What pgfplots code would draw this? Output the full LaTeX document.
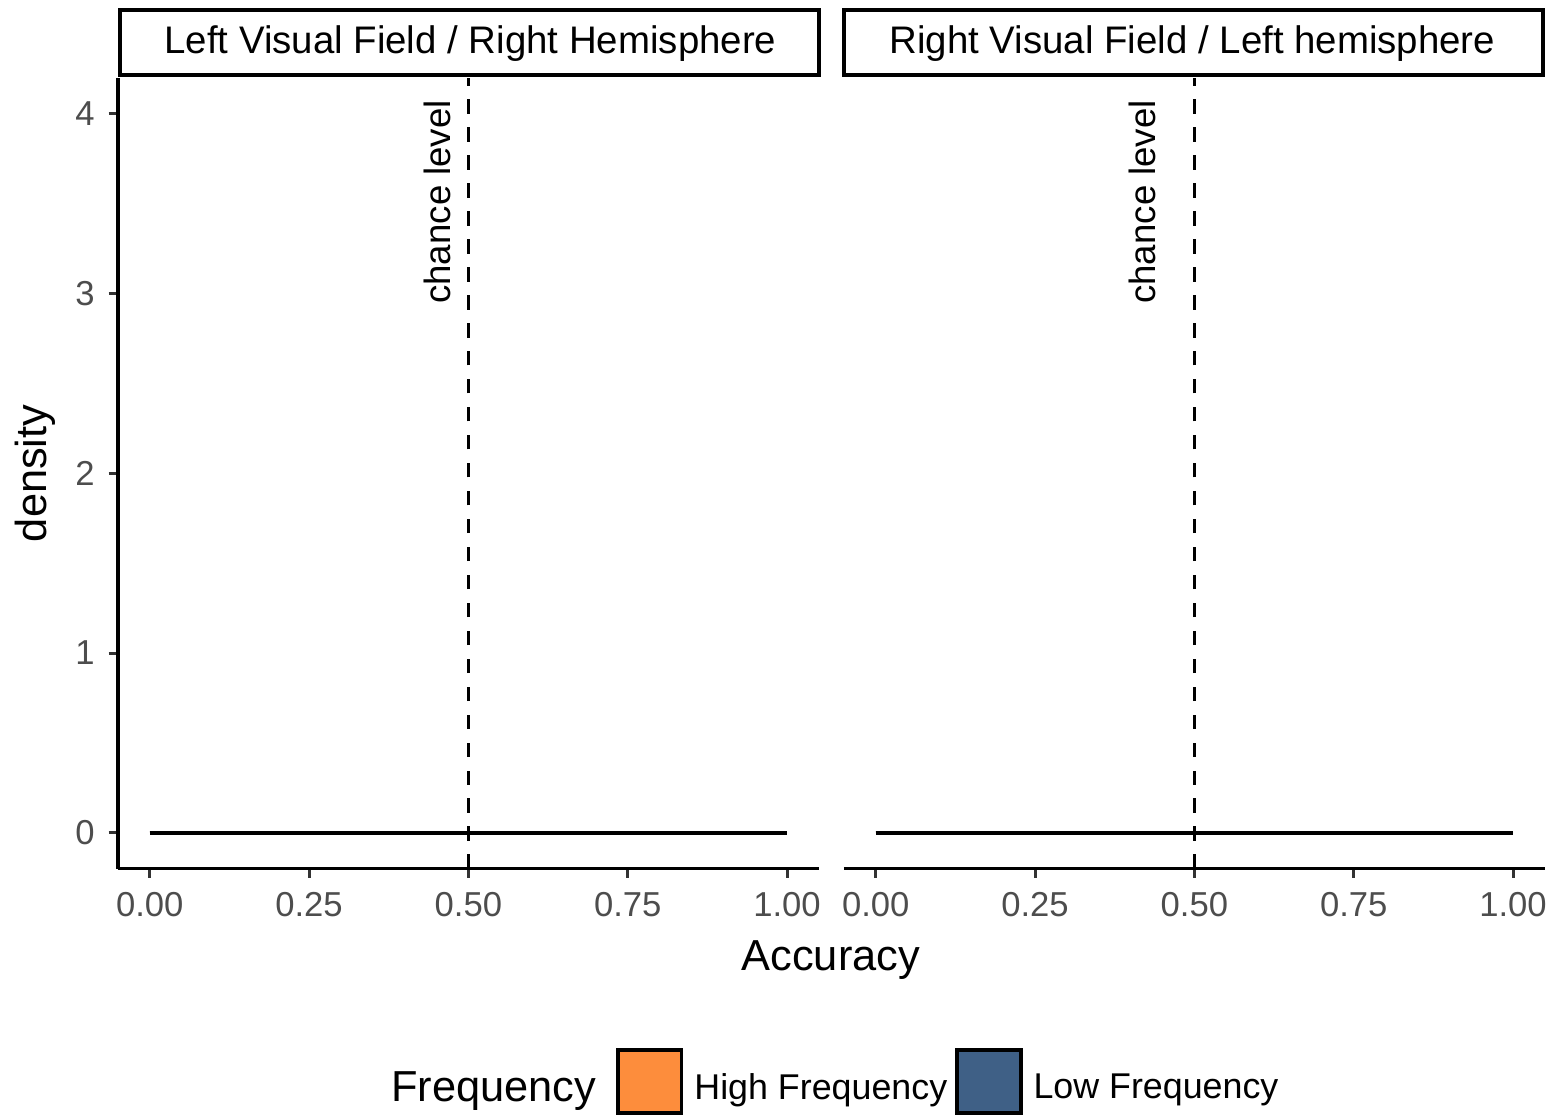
\documentclass[border=0pt]{standalone}
\usepackage{fontspec}
\setmainfont{Liberation Sans}
\usepackage{pgfplots}
\pgfplotsset{compat=1.18}
\definecolor{hf}{HTML}{FD8D3C}
\definecolor{lf}{HTML}{3F6086}
\definecolor{ticklab}{HTML}{4D4D4D}
\definecolor{tickc}{HTML}{333333}

\pgfplotsset{panel/.style={
  scale only axis, width=175.5bp, height=198bp,
  xmin=-0.05, xmax=1.05, ymin=-0.2, ymax=4.2,
  xtick={0,0.25,0.5,0.75,1}, xticklabels={0.00,0.25,0.50,0.75,1.00},
  ytick={0,1,2,3,4}, yticklabels={0,1,2,3,4},
  tick align=outside, major tick length=2.3bp,
  every tick/.style={tickc, line width=0.75bp},
  ticklabel style={font=\fontsize{8.7}{10}\selectfont, text=ticklab},
  x axis line style={line width=0.85bp, black, -},
  y axis line style={line width=0.85bp, black, -},
  clip=false,
}}

\begin{document}
\begin{tikzpicture}[x=0.25bp, y=0.25bp]
\path (0,0) rectangle (1560,1115);

% Panel 1
\begin{axis}[panel, at={(29.5bp,61.25bp)}, anchor=south west,
  axis x line*=bottom, axis y line*=left,
  legend columns=3,
  legend cell align=left,
  legend style={at={(axis description cs:1.0149,-0.2691)}, anchor=center,
    draw=none, fill=none, inner sep=0pt, outer sep=0pt,
    font=\fontsize{9}{11}\selectfont,
    nodes={inner sep=0pt},
    /tikz/every odd column/.append style={column sep=2.75bp},
    /tikz/every even column/.append style={column sep=2bp}},
]
\addlegendimage{empty legend}
\addlegendentry{\fontsize{10.9}{13}\selectfont Frequency\rule{3bp}{0pt}}
\addlegendimage{legend image code/.code={\draw[fill=hf, draw=black, line width=0.85bp] (0bp,-5.9bp) rectangle (16bp,9.9bp);}}
\addlegendentry{High Frequency}
\addlegendimage{legend image code/.code={\draw[fill=lf, draw=black, line width=0.85bp] (0bp,-5.9bp) rectangle (16bp,9.9bp);}}
\addlegendentry{Low Frequency}
\addplot[draw=black, line width=0.85bp, fill=hf, forget plot] coordinates {(0,0) (0.25,0) (0.5,0) (0.75,0) (1,0)};
\addplot[draw=black, line width=0.85bp, fill=lf, forget plot] coordinates {(0,0) (0.25,0) (0.5,0) (0.75,0) (1,0)};
\addplot[draw=black, line width=0.9bp, dash pattern=on 3.6bp off 3.4bp, forget plot] coordinates {(0.5,-0.2) (0.5,4.2)};
\node[rotate=90, font=\fontsize{9.2}{11}\selectfont, inner sep=0pt] at (axis cs:0.451,3.51) {chance level};
\end{axis}

% Panel 2
\begin{axis}[panel, at={(211.25bp,61.25bp)}, anchor=south west,
  axis x line*=bottom, axis y line=none]
\addplot[draw=black, line width=0.85bp, fill=hf] coordinates {(0,0) (0.25,0) (0.5,0) (0.75,0) (1,0)};
\addplot[draw=black, line width=0.85bp, fill=lf] coordinates {(0,0) (0.25,0) (0.5,0) (0.75,0) (1,0)};
\addplot[draw=black, line width=0.9bp, dash pattern=on 3.6bp off 3.4bp] coordinates {(0.5,-0.2) (0.5,4.2)};
\node[rotate=90, font=\fontsize{9.2}{11}\selectfont, inner sep=0pt] at (axis cs:0.418,3.51) {chance level};
\end{axis}

% Strips
\draw[line width=0.85bp] (120,1040) rectangle (820,1105);
\node[font=\fontsize{9.65}{11}\selectfont] at (471,1071) {Left Visual Field / Right Hemisphere};
\draw[line width=0.85bp] (845,1040) rectangle (1545,1105);
\node[font=\fontsize{9.65}{11}\selectfont] at (1194,1071) {Right Visual Field / Left hemisphere};

% Axis titles
\node[font=\fontsize{10.9}{13}\selectfont, anchor=base] at (832,143) {Accuracy};
\node[font=\fontsize{10.9}{13}\selectfont, rotate=90, anchor=base] at (47,641) {density};
\end{tikzpicture}
\end{document}
